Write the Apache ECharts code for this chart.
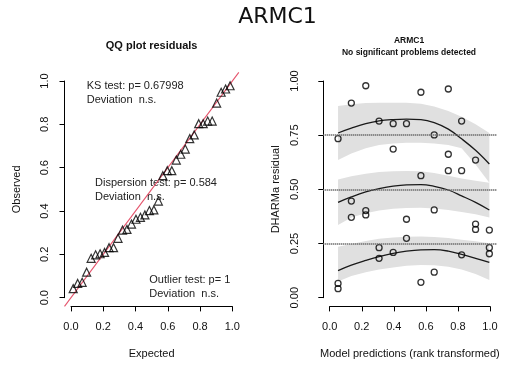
<!DOCTYPE html>
<html>
<head>
<meta charset="utf-8">
<script src="https://cdn.jsdelivr.net/npm/echarts@6/dist/echarts.min.js"></script>
<style>
html,body{margin:0;padding:0;background:#fff;}
#chart{width:513px;height:365px;}
</style>
</head>
<body>
<div id="chart"></div>
<script>
// ---- QQ plot data ----
const qqExpected = [0.0139,0.0417,0.0694,0.0972,0.125,0.1528,0.1806,0.2083,0.2361,0.2639,0.2917,0.3194,0.3472,0.375,0.4028,0.4306,0.4583,0.4861,0.5139,0.5417,0.5694,0.5972,0.625,0.6528,0.6806,0.7083,0.7361,0.7639,0.7917,0.8194,0.8472,0.875,0.9028,0.9306,0.9583,0.9861];
const qqObserved = [0.042,0.066,0.071,0.118,0.182,0.198,0.203,0.209,0.231,0.231,0.274,0.312,0.315,0.34,0.362,0.371,0.382,0.402,0.405,0.446,0.563,0.586,0.586,0.635,0.662,0.686,0.734,0.751,0.803,0.803,0.815,0.815,0.898,0.948,0.963,0.978];
const refLine = [[-0.04,-0.04],[1.04,1.04]];

// ---- residual vs predicted data ----
const resX = [0.052,0.135,0.225,0.308,0.396,0.479,0.396,0.569,0.74,0.652,0.823,0.74,0.74,0.823,0.91,0.569,0.135,0.135,0.225,0.225,0.479,0.652,0.91,0.91,0.996,0.479,0.308,0.308,0.396,0.823,0.996,0.996,0.652,0.569,0.052,0.052];
const resY = [0.734,0.898,0.978,0.815,0.803,0.803,0.686,0.948,0.963,0.751,0.815,0.662,0.586,0.586,0.635,0.563,0.446,0.371,0.402,0.382,0.362,0.405,0.34,0.315,0.312,0.274,0.231,0.182,0.209,0.198,0.231,0.203,0.118,0.071,0.066,0.042];

// quantile regression curves and bands (on the same x grid)
const qx = [0.052,0.135,0.225,0.308,0.396,0.479,0.569,0.652,0.74,0.823,0.91,0.996];
const q75 = [0.760,0.782,0.803,0.816,0.822,0.824,0.822,0.808,0.778,0.733,0.680,0.617];
const q75hi = [0.885,0.893,0.898,0.900,0.900,0.900,0.895,0.882,0.862,0.835,0.800,0.760];
const q75lo = [0.635,0.665,0.690,0.705,0.712,0.715,0.715,0.712,0.705,0.690,0.615,0.530];
const q50 = [0.440,0.465,0.488,0.503,0.515,0.521,0.522,0.514,0.497,0.470,0.440,0.405];
const q50hi = [0.545,0.560,0.572,0.580,0.584,0.585,0.583,0.575,0.563,0.550,0.540,0.530];
const q50lo = [0.335,0.370,0.390,0.402,0.410,0.414,0.415,0.412,0.405,0.395,0.385,0.370];
const q25 = [0.125,0.150,0.172,0.190,0.205,0.215,0.221,0.222,0.215,0.200,0.182,0.163];
const q25hi = [0.235,0.248,0.262,0.272,0.278,0.281,0.282,0.280,0.275,0.268,0.260,0.251];
const q25lo = [0.075,0.100,0.117,0.130,0.140,0.147,0.151,0.150,0.143,0.130,0.110,0.082];
const hLevels = [0.25,0.5,0.75];

// tick labels
const leftTickLabels = ['0.0','0.2','0.4','0.6','0.8','1.0'];
const rightYTickLabels = ['0.00','0.25','0.50','0.75','1.00'];

const FONT = 'Liberation Sans, Arial, Helvetica, sans-serif';
const chart = echarts.init(document.getElementById('chart'), null, {renderer:'canvas'});

const zip = (a,b) => a.map((v,i)=>[v,b[i]]);
const bands = [[q25lo,q25hi],[q50lo,q50hi],[q75lo,q75hi]];

function hiddenAxis(gi){ return {type:'value', gridIndex:gi, min:-0.04, max:1.04, show:false}; }
function visAxis(gi, opts){
  return Object.assign({
    type:'value', gridIndex:gi, min:0, max:1,
    splitLine:{show:false},
    axisLine:{show:true, onZero:false, lineStyle:{color:'#000', width:1}},
    axisTick:{show:true, length:5, lineStyle:{color:'#000', width:1}},
    nameLocation:'middle',
    nameTextStyle:{fontFamily:FONT, fontSize:11, color:'#111'}
  }, opts);
}

const option = {
  animation:false,
  backgroundColor:'#fff',
  grid:[
    {left:64.5, top:72.3, width:174.3, height:234.1},
    {left:71, top:81, width:161.3, height:216.7},
    {left:323.3, top:72.3, width:173.1, height:234.1},
    {left:329.7, top:81, width:160.3, height:216.7}
  ],
  xAxis:[
    hiddenAxis(0),
    visAxis(1,{interval:0.2, offset:8.7, name:'Expected', nameGap:42,
      axisLabel:{fontFamily:FONT, fontSize:11, color:'#111', margin:15, showMinLabel:true, showMaxLabel:true,
        formatter:(v,i)=>leftTickLabels[i]}}),
    hiddenAxis(2),
    visAxis(3,{interval:0.2, offset:8.7, name:'Model predictions (rank transformed)', nameGap:42,
      axisLabel:{fontFamily:FONT, fontSize:11, color:'#111', margin:15, showMinLabel:true, showMaxLabel:true,
        formatter:(v,i)=>leftTickLabels[i]}})
  ],
  yAxis:[
    hiddenAxis(0),
    visAxis(1,{interval:0.2, offset:6.5, name:'Observed', nameGap:42,
      axisLabel:{fontFamily:FONT, fontSize:11, color:'#111', margin:14, rotate:90, showMinLabel:true, showMaxLabel:true,
        formatter:(v,i)=>leftTickLabels[i]}}),
    hiddenAxis(2),
    visAxis(3,{interval:0.25, offset:6.4, name:'DHARMa residual', nameGap:42,
      axisLabel:{fontFamily:FONT, fontSize:11, color:'#111', margin:23, rotate:90, showMinLabel:true, showMaxLabel:true,
        formatter:(v,i)=>rightYTickLabels[i]}})
  ],
  series:[
    // left: reference line
    {type:'line', xAxisIndex:0, yAxisIndex:0, data:refLine, symbol:'none', silent:true,
      lineStyle:{color:'#e5546c', width:1.1}, z:2},
    // left: qq points
    {type:'scatter', xAxisIndex:0, yAxisIndex:0, data:zip(qqExpected, qqObserved),
      symbol:'triangle', symbolSize:8, silent:true,
      itemStyle:{color:'rgba(0,0,0,0)', borderColor:'#000', borderWidth:1.2}, z:3},
    // right: bands
    {type:'custom', xAxisIndex:2, yAxisIndex:2, data:[[0,0],[1,0],[2,0]], silent:true, z:1,
      renderItem:function(params, api){
        const b = bands[api.value(0)];
        const pts = [];
        for (let i=0;i<qx.length;i++) pts.push(api.coord([qx[i], b[1][i]]));
        for (let i=qx.length-1;i>=0;i--) pts.push(api.coord([qx[i], b[0][i]]));
        return {type:'polygon', shape:{points:pts}, style:{fill:'#e0e0e0', stroke:null}};
      }},
    // right: horizontal dotted lines
    {type:'line', xAxisIndex:2, yAxisIndex:2, data:[], silent:true, z:2,
      markLine:{symbol:'none', silent:true, label:{show:false},
        lineStyle:{color:'#666', width:2, type:[1,1]},
        data:hLevels.map(v=>({yAxis:v}))}},
    // right: quantile curves
    {type:'line', xAxisIndex:2, yAxisIndex:2, data:zip(qx,q25), symbol:'none', smooth:0.4, silent:true,
      lineStyle:{color:'#1a1a1a', width:1.3}, z:3},
    {type:'line', xAxisIndex:2, yAxisIndex:2, data:zip(qx,q50), symbol:'none', smooth:0.4, silent:true,
      lineStyle:{color:'#1a1a1a', width:1.3}, z:3},
    {type:'line', xAxisIndex:2, yAxisIndex:2, data:zip(qx,q75), symbol:'none', smooth:0.4, silent:true,
      lineStyle:{color:'#1a1a1a', width:1.3}, z:3},
    // right: residual points
    {type:'scatter', xAxisIndex:2, yAxisIndex:2, data:zip(resX,resY),
      symbol:'circle', symbolSize:6, silent:true,
      itemStyle:{color:'rgba(0,0,0,0)', borderColor:'#000', borderWidth:1.3}, z:4}
  ],
  graphic:[
    {type:'text', x:277.5, y:17, style:{text:'ARMC1', fontFamily:'DejaVu Sans', fontSize:22, fill:'#111', textAlign:'center', textVerticalAlign:'middle'}},
    {type:'text', x:151.6, y:45.7, style:{text:'QQ plot residuals', fontFamily:FONT, fontSize:11, fontWeight:'bold', fill:'#111', textAlign:'center', textVerticalAlign:'middle'}},
    {type:'text', x:409, y:41, style:{text:'ARMC1', fontFamily:FONT, fontSize:8.5, fontWeight:'bold', fill:'#111', textAlign:'center', textVerticalAlign:'middle'}},
    {type:'text', x:409, y:52.3, style:{text:'No significant problems detected', fontFamily:FONT, fontSize:8.5, fontWeight:'bold', fill:'#111', textAlign:'center', textVerticalAlign:'middle'}},
    {type:'text', x:86.7, y:86, style:{text:'KS test: p= 0.67998', fontFamily:FONT, fontSize:11, fill:'#222', textAlign:'left', textVerticalAlign:'middle'}},
    {type:'text', x:86.7, y:100, style:{text:'Deviation  n.s.', fontFamily:FONT, fontSize:11, fill:'#222', textAlign:'left', textVerticalAlign:'middle'}},
    {type:'text', x:95, y:183.3, style:{text:'Dispersion test: p= 0.584', fontFamily:FONT, fontSize:11, fill:'#222', textAlign:'left', textVerticalAlign:'middle'}},
    {type:'text', x:95, y:196.7, style:{text:'Deviation  n.s.', fontFamily:FONT, fontSize:11, fill:'#222', textAlign:'left', textVerticalAlign:'middle'}},
    {type:'text', x:149.3, y:280, style:{text:'Outlier test: p= 1', fontFamily:FONT, fontSize:11, fill:'#222', textAlign:'left', textVerticalAlign:'middle'}},
    {type:'text', x:149.3, y:294.3, style:{text:'Deviation  n.s.', fontFamily:FONT, fontSize:11, fill:'#222', textAlign:'left', textVerticalAlign:'middle'}}
  ]
};
chart.setOption(option);
</script>
</body>
</html>
